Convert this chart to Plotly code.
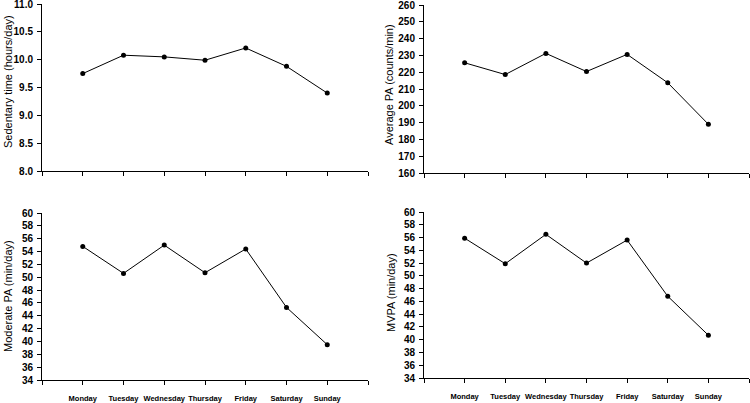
import plotly.graph_objects as go

DAYS = ["Monday", "Tuesday", "Wednesday", "Thursday", "Friday", "Saturday", "Sunday"]
X_POS = [1, 2, 3, 4, 5, 6, 7]

SEDENTARY = [9.75, 10.08, 10.05, 9.99, 10.21, 9.88, 9.40]
AVERAGE_PA = [225.6, 218.6, 231.2, 220.4, 230.6, 213.7, 189.0]
MODERATE_PA = [54.8, 50.6, 55.0, 50.7, 54.4, 45.3, 39.5]
MVPA = [55.9, 51.9, 56.5, 52.0, 55.6, 46.8, 40.7]

FONT = "Liberation Sans, Arial, sans-serif"
W, H = 750, 403


def px_x(v):
    return v / W


def px_y(v):
    return 1 - v / H


# (values, title, y range, dtick, x domain px, y domain px, title pos px, show labels)
PANELS = [
    (SEDENTARY, "Sedentary time (hours/day)", [8, 11], 0.5, (42, 368), (4, 171), (8, 82), False),
    (AVERAGE_PA, "Average PA (counts/min)", [160, 260], 10, (424, 749), (5, 173), (389, 85), False),
    (MODERATE_PA, "Moderate PA (min/day)", [34, 60], 2, (42, 368), (213, 380), (8, 296), True),
    (MVPA, "MVPA (min/day)", [34, 60], 2, (424, 749), (212, 378), (391, 293), True),
]

fig = go.Figure()
annotations = []
for i, (vals, title, yr, dt, xd, yd, tpos, labels) in enumerate(PANELS, start=1):
    xa = "x" if i == 1 else f"x{i}"
    ya = "y" if i == 1 else f"y{i}"
    fig.add_trace(go.Scatter(
        x=X_POS, y=vals, mode="lines+markers", xaxis=xa, yaxis=ya,
        line=dict(color="black", width=1),
        marker=dict(color="black", size=5),
        showlegend=False, cliponaxis=False,
    ))
    key = "" if i == 1 else str(i)
    fig.layout[f"xaxis{key}"] = dict(
        domain=[px_x(xd[0]), px_x(xd[1])], range=[0, 8], anchor=ya,
        tickvals=list(range(9)),
        ticktext=[""] + (DAYS if labels else [""] * 7) + [""],
        tickangle=0, automargin=False, ticklabeloverflow="allow",
        ticks="outside", ticklen=4, tickcolor="black", tickwidth=1,
        showline=True, linecolor="black", linewidth=1,
        showgrid=False, zeroline=False, fixedrange=True,
        ticklabelstandoff=7,
        tickfont=dict(family=FONT, size=7.5, color="black", weight="bold"),
    )
    fig.layout[f"yaxis{key}"] = dict(
        domain=[px_y(yd[1]), px_y(yd[0])], range=yr, anchor=xa,
        dtick=dt, tick0=yr[0], tickformat=".1f" if dt < 1 else "d",
        automargin=False, ticklabeloverflow="allow",
        ticks="outside", ticklen=4, tickcolor="black", tickwidth=1,
        showline=True, linecolor="black", linewidth=1,
        showgrid=False, zeroline=False, fixedrange=True,
        ticklabelstandoff=2,
        tickfont=dict(family=FONT, size=10, color="black", weight="bold"),
    )
    annotations.append(dict(
        text=title, textangle=-90, xref="paper", yref="paper",
        x=px_x(tpos[0]), y=px_y(tpos[1]), xanchor="center", yanchor="middle",
        showarrow=False, font=dict(family=FONT, size=11, color="black"),
    ))

fig.update_layout(
    width=W, height=H,
    margin=dict(l=0, r=0, t=0, b=0),
    plot_bgcolor="white", paper_bgcolor="white",
    annotations=annotations,
)

# page body has a default 8px margin; remove it so the figure fills the window
fig.write_html("out.html", config={"displayModeBar": False},
               post_script="document.body.style.margin='0';")
